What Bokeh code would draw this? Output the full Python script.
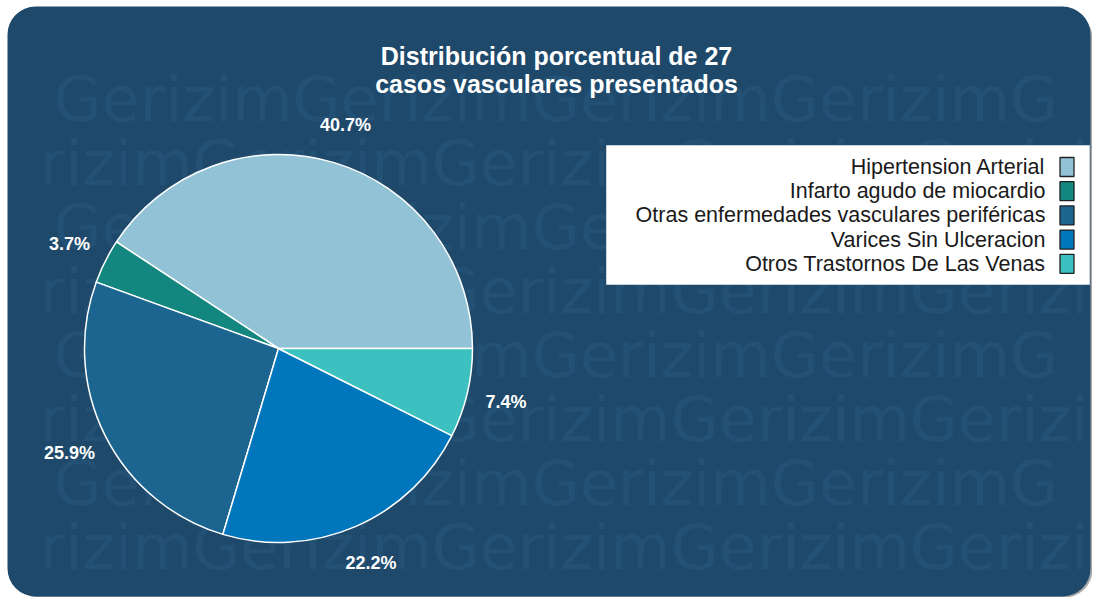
import numpy as np
from bokeh.plotting import figure
from bokeh.models import Range1d, BoxAnnotation, ColumnDataSource
from bokeh.core.properties import value
from bokeh.embed import file_html
from bokeh.resources import INLINE

# ---- data ----
categories = ["Hipertension Arterial", "Infarto agudo de miocardio",
              "Otras enfermedades vasculares periféricas",
              "Varices Sin Ulceracion", "Otros Trastornos De Las Venas"]
counts = [11, 1, 7, 6, 2]
colors = ["#92c2d5", "#13877f", "#1c6590", "#0077bd", "#3cc0c0"]
title_lines = ["Distribución porcentual de 27", "casos vasculares presentados"]
watermark_word = "Gerizim"

# ---- layout (page-pixel coordinates, y negated) ----
W, H = 1092, 597
BG = "#1f496a"
FONT = "Liberation Sans"
CARD_L, CARD_R, CARD_T, CARD_B = 7, 1090, 6, 596

p = figure(width=W, height=H, x_range=Range1d(0, W), y_range=Range1d(-H, 0),
           output_backend="svg", toolbar_location=None, min_border=0)
p.axis.visible = False
p.grid.visible = False
p.outline_line_color = None
p.background_fill_color = "white"
p.border_fill_color = "white"

shadow = BoxAnnotation(left=CARD_L + 3, right=CARD_R + 2, bottom=-(CARD_B + 1), top=-(CARD_T + 4),
                       fill_color="#6a6a6a", fill_alpha=0.6, line_color=None,
                       border_radius=28, level="underlay")
p.add_layout(shadow)
card = BoxAnnotation(left=CARD_L, right=CARD_R, bottom=-CARD_B, top=-CARD_T, fill_color=BG,
                     fill_alpha=1.0, line_color=None, border_radius=28, level="underlay")
p.add_layout(card)

# watermark texture: whole words, with partial words at the card edges
WM_SIZE = 62
char_em = np.array([0.775, 0.615, 0.411, 0.278, 0.525, 0.278, 0.974])  # DejaVu Sans advances
char_w = char_em * WM_SIZE
WORD_W = char_w.sum()
wx, wy, wt, wa = [], [], [], []
for k in range(1, 9):
    base = 35 + 64 * k
    g0 = -47 if k % 2 == 0 else 53
    for j in range(-2, 6):
        g = g0 + WORD_W * j
        if g + WORD_W <= CARD_L or g >= CARD_R:
            continue
        if g >= CARD_L - 4 and g + WORD_W <= CARD_R:
            wx.append(g); wy.append(-base); wt.append(watermark_word); wa.append("left")
        elif g < CARD_L:
            n = 0
            while n < 7 and g + WORD_W - char_w[7 - n - 1:].sum() >= 2:
                n += 1
            if n:
                wx.append(g + WORD_W); wy.append(-base); wt.append(watermark_word[7 - n:]); wa.append("right")
        else:
            n = 0
            while n < 7 and g + char_w[:n + 1].sum() <= CARD_R + 1:
                n += 1
            if n:
                wx.append(g); wy.append(-base); wt.append(watermark_word[:n]); wa.append("left")
wsrc = ColumnDataSource(dict(x=wx, y=wy, t=wt, a=wa))
p.text(x="x", y="y", text="t", text_align="a", source=wsrc, text_font=value("DejaVu Sans"),
       text_font_size=f"{WM_SIZE}px", text_color="#4f9be0", text_alpha=0.1,
       text_baseline="alphabetic")

# pie
total = sum(counts)
fracs = np.array(counts) / total
ends = np.cumsum(fracs) * 2 * np.pi
starts = np.concatenate([[0.0], ends[:-1]])
mids = (starts + ends) / 2
cx, cy, r = 278, -348, 194
src = ColumnDataSource(dict(start=starts, end=ends, color=colors, cat=categories))
p.wedge(x=cx, y=cy, radius=r, start_angle="start", end_angle="end", fill_color="color",
        line_color="white", line_width=1.5, source=src)

labels = [f"{100 * f:.1f}%" for f in fracs]
lr = r * 1.205
p.text(x=cx + lr * np.cos(mids), y=cy + lr * np.sin(mids), text=labels,
       text_font=value(FONT), text_font_style="bold", text_font_size="18px",
       text_color="white", text_align="center", text_baseline="middle")

# title
p.text(x=[556, 556], y=[-55, -83], text=title_lines, text_font=value(FONT),
       text_font_style="bold", text_font_size="25px", text_color="white",
       text_align="center", text_baseline="middle")

# legend
p.quad(left=[606], right=[1089], top=[-145], bottom=[-284], fill_color="white",
       line_color="#c8d2dc", line_width=1)
ly = [-(166.5 + 24.2 * i) for i in range(len(categories))]
p.text(x=[1045] * len(categories), y=ly, text=categories, text_font=value(FONT),
       text_font_size="21.5px", text_color="#1a1a1a", text_align="right", text_baseline="middle")
p.rect(x=[1066.5] * len(categories), y=ly, width=14, height=19, fill_color=colors,
       line_color="#202020", line_width=1.3)

open("out.html", "w").write(file_html(p, INLINE))
